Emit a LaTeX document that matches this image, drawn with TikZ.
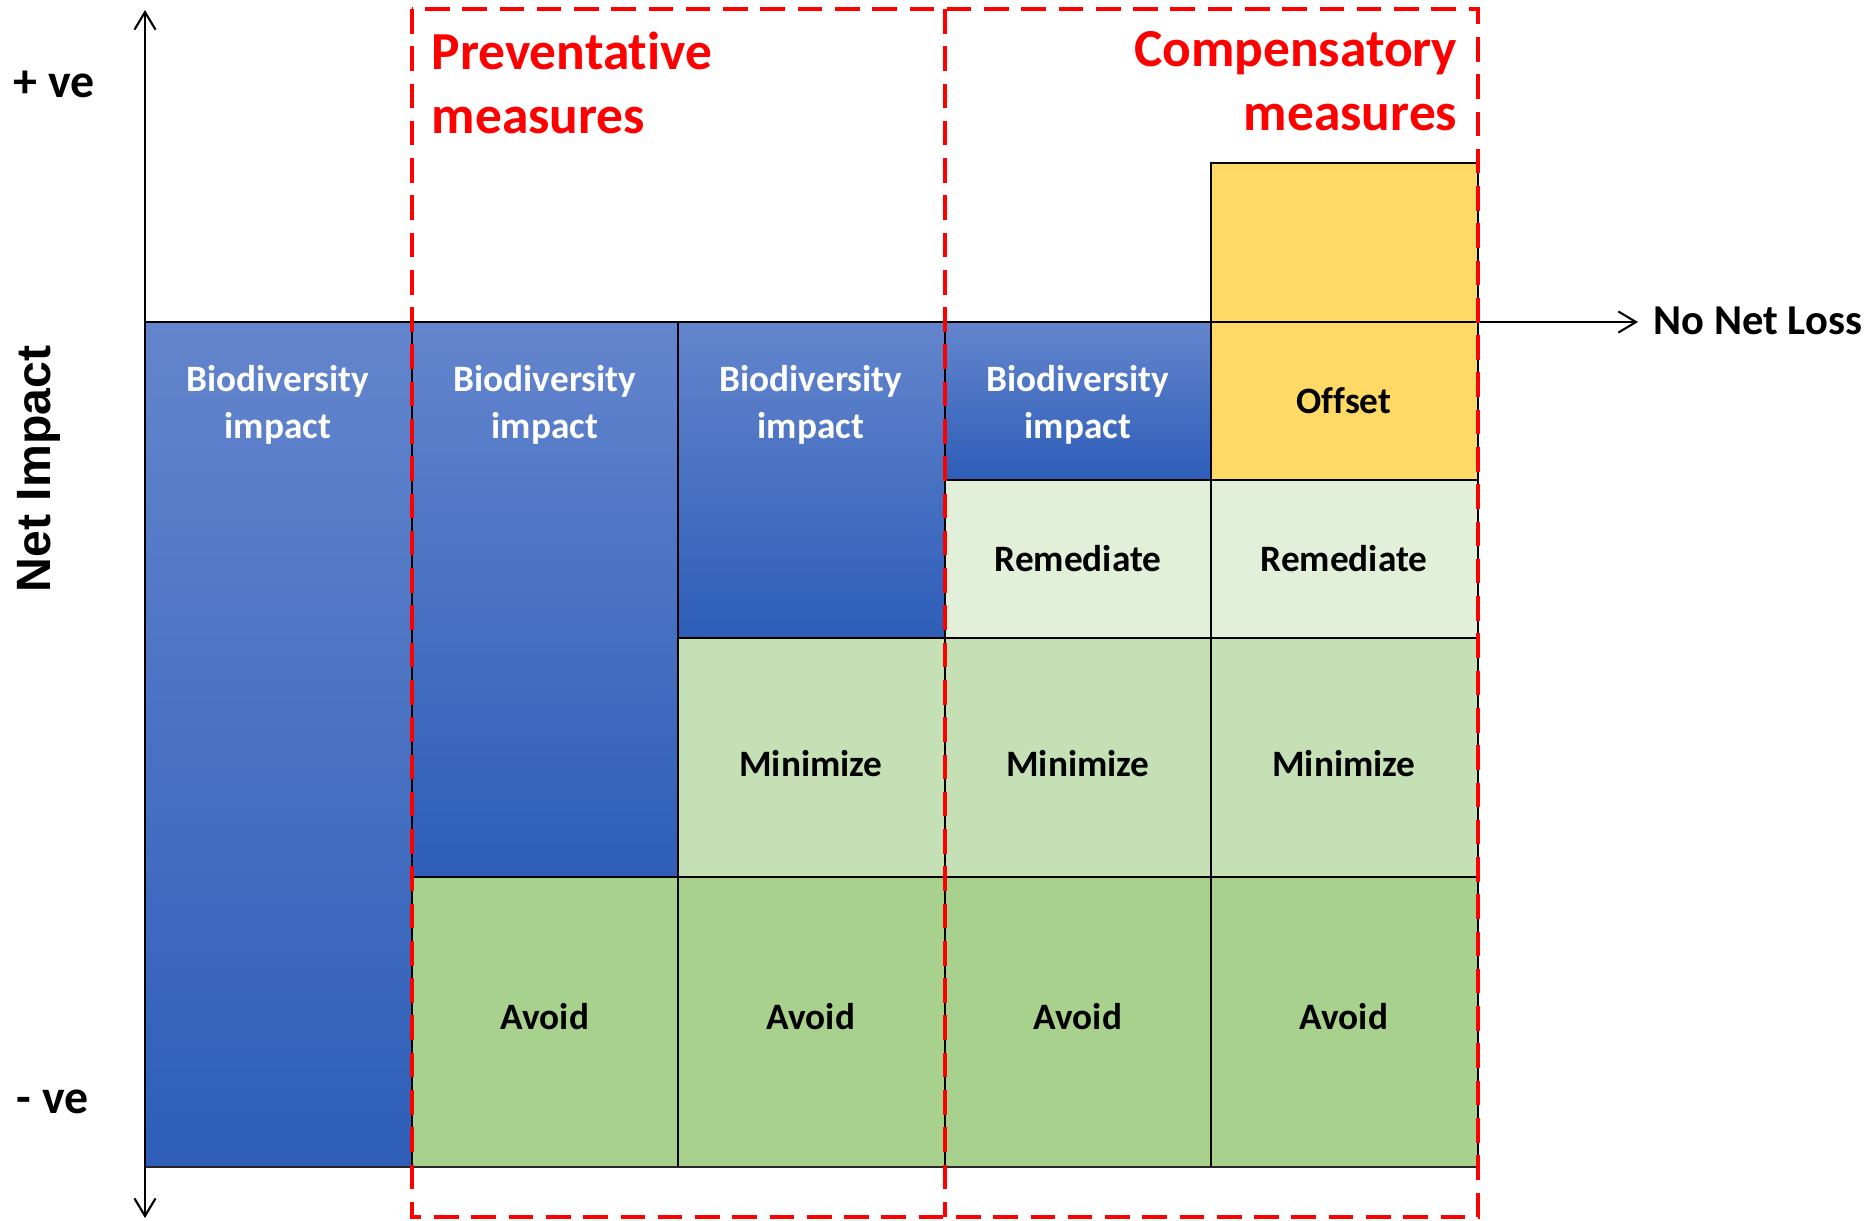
\documentclass[tikz,border=0pt]{standalone}
\usepackage{fontspec}
\setmainfont{Carlito}[Ligatures=NoCommon]
\newfontfamily\axisfont{Liberation Sans}
\usetikzlibrary{arrows.meta}

\definecolor{impacttop}{RGB}{99,133,205}
\definecolor{impactbot}{RGB}{46,94,184}
\definecolor{avoidgreen}{RGB}{169,209,142}
\definecolor{minigreen}{RGB}{197,224,180}
\definecolor{remedgreen}{RGB}{226,240,217}
\definecolor{offsetgold}{RGB}{255,217,102}

\begin{document}
\begin{tikzpicture}[x=0.01cm, y=-0.01cm,
		cell/.style={draw=black, line width=0.45pt},
		impact/.style={cell, top color=impacttop, bottom color=impactbot},
		lbl/.style={font=\bfseries\fontsize{10.6}{13.2}\selectfont, align=center, inner sep=0pt},
		title/.style={text=red, font=\bfseries\fontsize{15.2}{18.2}\selectfont, inner sep=0pt},
		measure/.style={draw=red, line width=1.2pt, dash pattern=on 7pt off 3.6pt},
		axis/.style={line width=0.6pt}]
		\useasboundingbox (0,0) rectangle (1868,1220);

		% impact blocks
		\draw[impact] (145,322) rectangle (412,1167);
		\draw[impact] (412,322) rectangle (678,877);
		\draw[impact] (678,322) rectangle (945,638);
		\draw[impact] (945,322) rectangle (1211,480);
		\draw[cell, fill=offsetgold] (1211,163) rectangle (1478,480);

		% mitigation blocks
		\draw[cell, fill=remedgreen] (945,480) rectangle (1211,638);
		\draw[cell, fill=remedgreen] (1211,480) rectangle (1478,638);
		\draw[cell, fill=minigreen] (678,638) rectangle (945,877);
		\draw[cell, fill=minigreen] (945,638) rectangle (1211,877);
		\draw[cell, fill=minigreen] (1211,638) rectangle (1478,877);
		\draw[cell, fill=avoidgreen] (412,877) rectangle (678,1167);
		\draw[cell, fill=avoidgreen] (678,877) rectangle (945,1167);
		\draw[cell, fill=avoidgreen] (945,877) rectangle (1211,1167);
		\draw[cell, fill=avoidgreen] (1211,877) rectangle (1478,1167);
		\draw[line width=0.8pt, black!85] (145,1167) -- (1478,1167);

		\node[lbl, text=white] (imp1) at (278,405) {Biodiversity\\impact};
		\node[lbl, text=white] (imp2) at (545,405) {Biodiversity\\impact};
		\node[lbl, text=white] (imp3) at (811,405) {Biodiversity\\impact};
		\node[lbl, text=white] (imp4) at (1078,405) {Biodiversity\\impact};
		\node[lbl] (offset) at (1344,401) {Offset};
		\node[lbl] (rem4) at (1078,559) {Remediate};
		\node[lbl] (rem5) at (1344,559) {Remediate};
		\node[lbl] (min3) at (811,764) {Minimize};
		\node[lbl] (min4) at (1078,764) {Minimize};
		\node[lbl] (min5) at (1344,764) {Minimize};
		\node[lbl] (av2) at (545,1017) {Avoid};
		\node[lbl] (av3) at (811,1017) {Avoid};
		\node[lbl] (av4) at (1078,1017) {Avoid};
		\node[lbl] (av5) at (1344,1017) {Avoid};

		% axes
		\coordinate (ytop) at (145,10);
		\coordinate (ybot) at (145,1218);
		\coordinate (origin) at (145,322);
		\coordinate (xend) at (1638,322);
		\draw[axis, {Straight Barb[length=5pt,width=6pt]}-{Straight Barb[length=5pt,width=6pt]}] (ybot) -- (ytop);
		\draw[axis, -{Straight Barb[length=5pt,width=6pt]}] (origin) -- (xend);
		\node[anchor=west, inner sep=0pt, font=\bfseries\fontsize{12.1}{14}\selectfont] (nnl) at (1653,321) {No Net Loss};

		\node[anchor=base west, inner sep=0pt, font=\bfseries\fontsize{13.6}{16}\selectfont] (pos) at (13,97) {+ ve};
		\node[anchor=base west, inner sep=0pt, font=\bfseries\fontsize{13.6}{16}\selectfont] (neg) at (16,1113) {- ve};
		\node[rotate=90, inner sep=0pt, font=\axisfont\bfseries\fontsize{13.7}{16}\selectfont] (net) at (39,469) {Net Impact};

		% measure groups
		\draw[measure] (412,9) rectangle (1478,1217);
		\draw[measure] (945,9) -- (945,1217);
		\node[title, anchor=north west, align=left] (prev) at (431,31) {Preventative\\measures};
		\node[title, anchor=north east, align=right] (comp) at (1458,31) {Compensatory\\measures};
	\end{tikzpicture}
\end{document}
